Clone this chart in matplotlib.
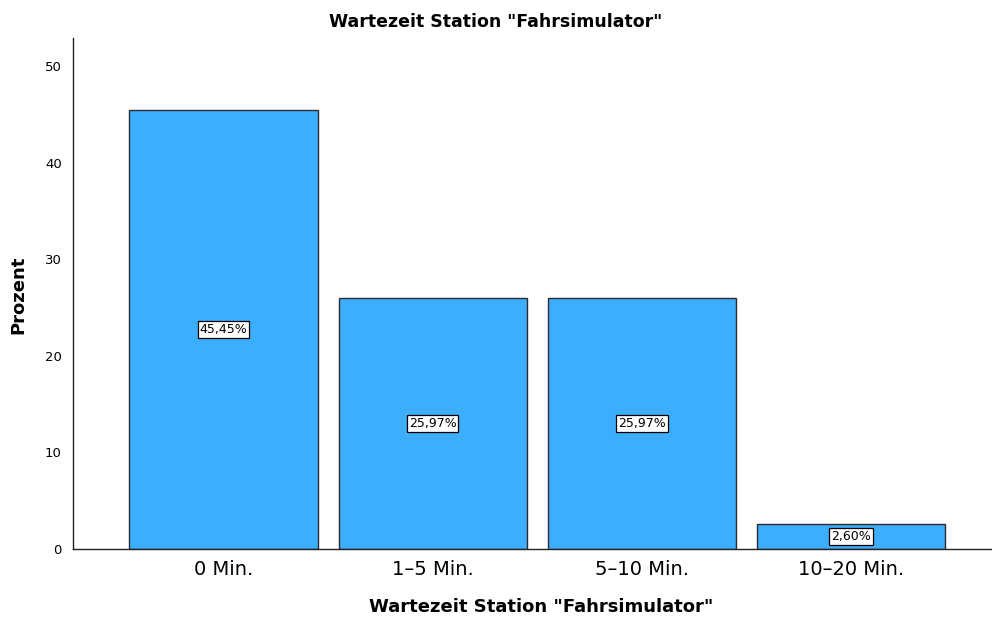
import numpy as np
import matplotlib.pyplot as plt

categories = ['0 Min.', '1–5 Min.', '5–10 Min.', '10–20 Min.']
percent = [45.45, 25.97, 25.97, 2.60]
value_labels = ['45,45%', '25,97%', '25,97%', '2,60%']
y_ticks = [0, 10, 20, 30, 40, 50]

title = 'Wartezeit Station "Fahrsimulator"'

fig = plt.figure(figsize=(9.92, 6.19), dpi=100)
ax = fig.add_axes([73 / 992, 1 - 549 / 619, 1 - 73 / 992, (549 - 38) / 619])

x = np.arange(len(categories))
bars = ax.bar(x, percent, width=0.9, color='#3DAEFE', edgecolor='#2b2b2b', linewidth=1.0)

for xi, p, lab in zip(x, percent, value_labels):
    ax.text(xi, p / 2, lab, ha='center', va='center', fontsize=9,
            bbox=dict(boxstyle='square,pad=0.15', facecolor='white', edgecolor='black', linewidth=0.9))

ax.set_xlim(-0.72, 3.675)
ax.set_ylim(0, 52.9)
ax.set_yticks(y_ticks)
ax.set_xticks(x)
ax.set_xticklabels(categories, fontsize=14)
ax.tick_params(axis='y', length=0, pad=8, labelsize=9.5)
ax.tick_params(axis='x', length=0, pad=8)

for s in ['top', 'right']:
    ax.spines[s].set_visible(False)
for s in ['left', 'bottom']:
    ax.spines[s].set_color('#222222')
    ax.spines[s].set_linewidth(1.0)

fig.text(0.5, 1 - 22 / 619, title, ha='center', va='center', fontsize=12.5, fontweight='bold')
fig.text(541 / 992, 1 - 607 / 619, title, ha='center', va='center', fontsize=13, fontweight='bold')
fig.text(18 / 992, 1 - 295 / 619, 'Prozent', ha='center', va='center', fontsize=13,
         fontweight='bold', rotation=90)

fig.savefig('out.png', dpi=100)
